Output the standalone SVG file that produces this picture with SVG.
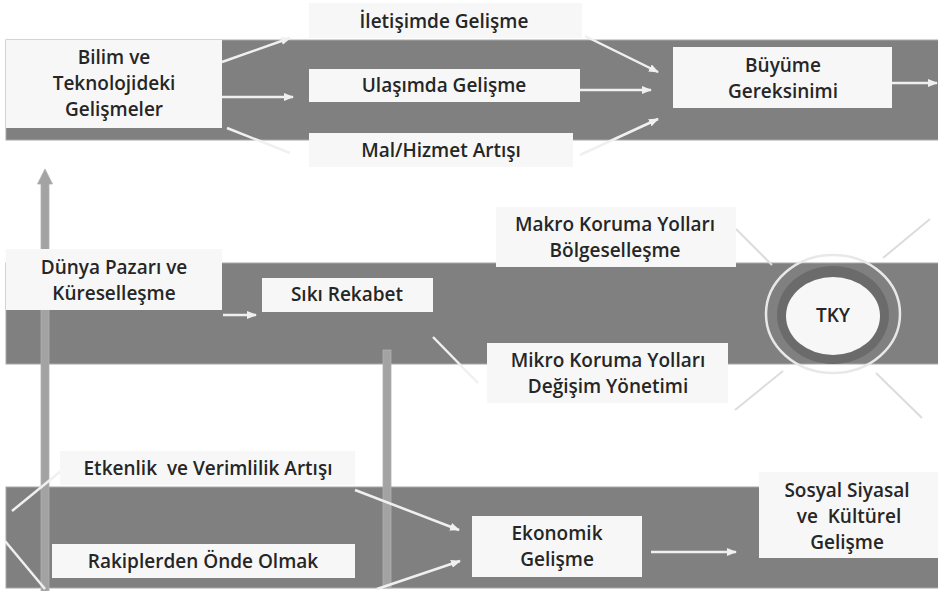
<svg xmlns="http://www.w3.org/2000/svg" width="938" height="591" viewBox="0 0 938 591">
<style>
.band{fill:#808080;stroke:#a8a8a8;stroke-width:1}
.box{fill:#f7f7f7}
.t{font-family:"Open Sans","Liberation Sans",sans-serif;font-weight:600;font-size:19px;fill:#262626;text-anchor:middle;white-space:pre}
.con{stroke:#f0f0f0;stroke-width:2.5;fill:none}
.ray{stroke:#dcdcdc;stroke-width:2;fill:none}
.bar{fill:#a3a3a3;stroke:#b0b0b0;stroke-width:0.8}
</style>
<defs>
<marker id="ah" viewBox="0 0 10 8" refX="9" refY="4" markerWidth="10" markerHeight="8" markerUnits="userSpaceOnUse" orient="auto">
<path d="M0,0 L10,4 L0,8 Z" fill="#f0f0f0"/>
</marker>
</defs>
<rect width="938" height="591" fill="#ffffff"/>
<g id="bands">
<rect class="band" x="6" y="40" width="934" height="100"/>
<rect class="band" x="6" y="263" width="934" height="101"/>
<rect class="band" x="6" y="487" width="934" height="101"/>
</g>
<g id="bars">
<path class="bar" d="M41,591 L41,184 L37.5,184 L45,169 L52.5,184 L49,184 L49,591 Z"/>
<rect class="bar" x="383" y="350" width="8" height="238"/>
</g>
<g id="connectors">
<line class="con" x1="222" y1="62" x2="290" y2="38" marker-end="url(#ah)"/>
<line class="con" x1="222" y1="97" x2="293" y2="97" marker-end="url(#ah)"/>
<line class="con" x1="227" y1="128" x2="290" y2="153"/>
<line class="con" x1="585" y1="36" x2="658" y2="72" marker-end="url(#ah)"/>
<line class="con" x1="580" y1="90" x2="651" y2="90" marker-end="url(#ah)"/>
<line class="con" x1="580" y1="155" x2="658" y2="119" marker-end="url(#ah)"/>
<line class="con" x1="892" y1="83" x2="937" y2="83" marker-end="url(#ah)"/>
<line class="con" x1="223" y1="315" x2="256" y2="315" marker-end="url(#ah)"/>
<line class="con" x1="433" y1="337" x2="478" y2="383"/>
<line class="con" x1="61" y1="471" x2="12" y2="511"/>
<line class="con" x1="5" y1="541" x2="45" y2="589"/>
<line class="con" x1="355" y1="490" x2="459" y2="530" marker-end="url(#ah)"/>
<line class="con" x1="377" y1="589" x2="460" y2="561" marker-end="url(#ah)"/>
<line class="con" x1="651" y1="552" x2="736" y2="552" marker-end="url(#ah)"/>
<line class="ray" x1="736" y1="229" x2="772" y2="265"/>
<line class="ray" x1="883" y1="258" x2="930" y2="219"/>
<line class="ray" x1="783" y1="371" x2="735" y2="410"/>
<line class="ray" x1="876" y1="373" x2="922" y2="418"/>
</g>
<g id="bilim">
<rect class="box" x="6" y="40" width="216" height="88"/>
<text class="t" x="114" y="64">Bilim ve</text>
<text class="t" x="114" y="90">Teknolojideki</text>
<text class="t" x="114" y="116">Gelişmeler</text>
</g>
<g id="iletisim">
<rect class="box" x="309" y="3" width="273" height="35"/>
<text class="t" x="444" y="28">İletişimde Gelişme</text>
</g>
<g id="ulasim">
<rect class="box" x="309" y="69" width="271" height="33"/>
<text class="t" x="444" y="92">Ulaşımda Gelişme</text>
</g>
<g id="mal">
<rect class="box" x="309" y="133" width="264" height="34"/>
<text class="t" x="441" y="157">Mal/Hizmet Artışı</text>
</g>
<g id="buyume">
<rect class="box" x="673" y="47" width="219" height="61"/>
<text class="t" x="783" y="72">Büyüme</text>
<text class="t" x="783" y="98">Gereksinimi</text>
</g>
<g id="dunya">
<rect class="box" x="6" y="249" width="216" height="61"/>
<text class="t" x="114" y="274">Dünya Pazarı ve</text>
<text class="t" x="114" y="300">Küreselleşme</text>
</g>
<g id="siki">
<rect class="box" x="262" y="278" width="171" height="34"/>
<text class="t" x="347" y="301">Sıkı Rekabet</text>
</g>
<g id="makro">
<rect class="box" x="496" y="207" width="240" height="60"/>
<text class="t" x="615" y="231">Makro Koruma Yolları</text>
<text class="t" x="615" y="257">Bölgeselleşme</text>
</g>
<g id="mikro">
<rect class="box" x="487" y="343" width="241" height="60"/>
<text class="t" x="608" y="367">Mikro Koruma Yolları</text>
<text class="t" x="608" y="393">Değişim Yönetimi</text>
</g>
<g id="tky">
<ellipse cx="833" cy="314" rx="67" ry="59" fill="none" stroke="#e8e8e8" stroke-width="2.5"/>
<ellipse cx="833" cy="315" rx="56" ry="49" fill="#6b6b6b"/>
<ellipse cx="833" cy="316" rx="47" ry="39" fill="#f7f7f7"/>
<text class="t" x="833" y="322">TKY</text>
</g>
<g id="etkenlik">
<rect class="box" x="60" y="451" width="295" height="34"/>
<text class="t" x="208" y="475">Etkenlik  ve Verimlilik Artışı</text>
</g>
<g id="rakip">
<rect class="box" x="52" y="544" width="303" height="34"/>
<text class="t" x="203" y="568">Rakiplerden Önde Olmak</text>
</g>
<g id="ekonomik">
<rect class="box" x="472" y="516" width="170" height="61"/>
<text class="t" x="557" y="540">Ekonomik</text>
<text class="t" x="557" y="566">Gelişme</text>
</g>
<g id="sosyal">
<rect class="box" x="759" y="472" width="179" height="86"/>
<text class="t" x="847" y="497">Sosyal Siyasal</text>
<text class="t" x="849" y="523">ve  Kültürel</text>
<text class="t" x="847" y="549">Gelişme</text>
</g>
</svg>
